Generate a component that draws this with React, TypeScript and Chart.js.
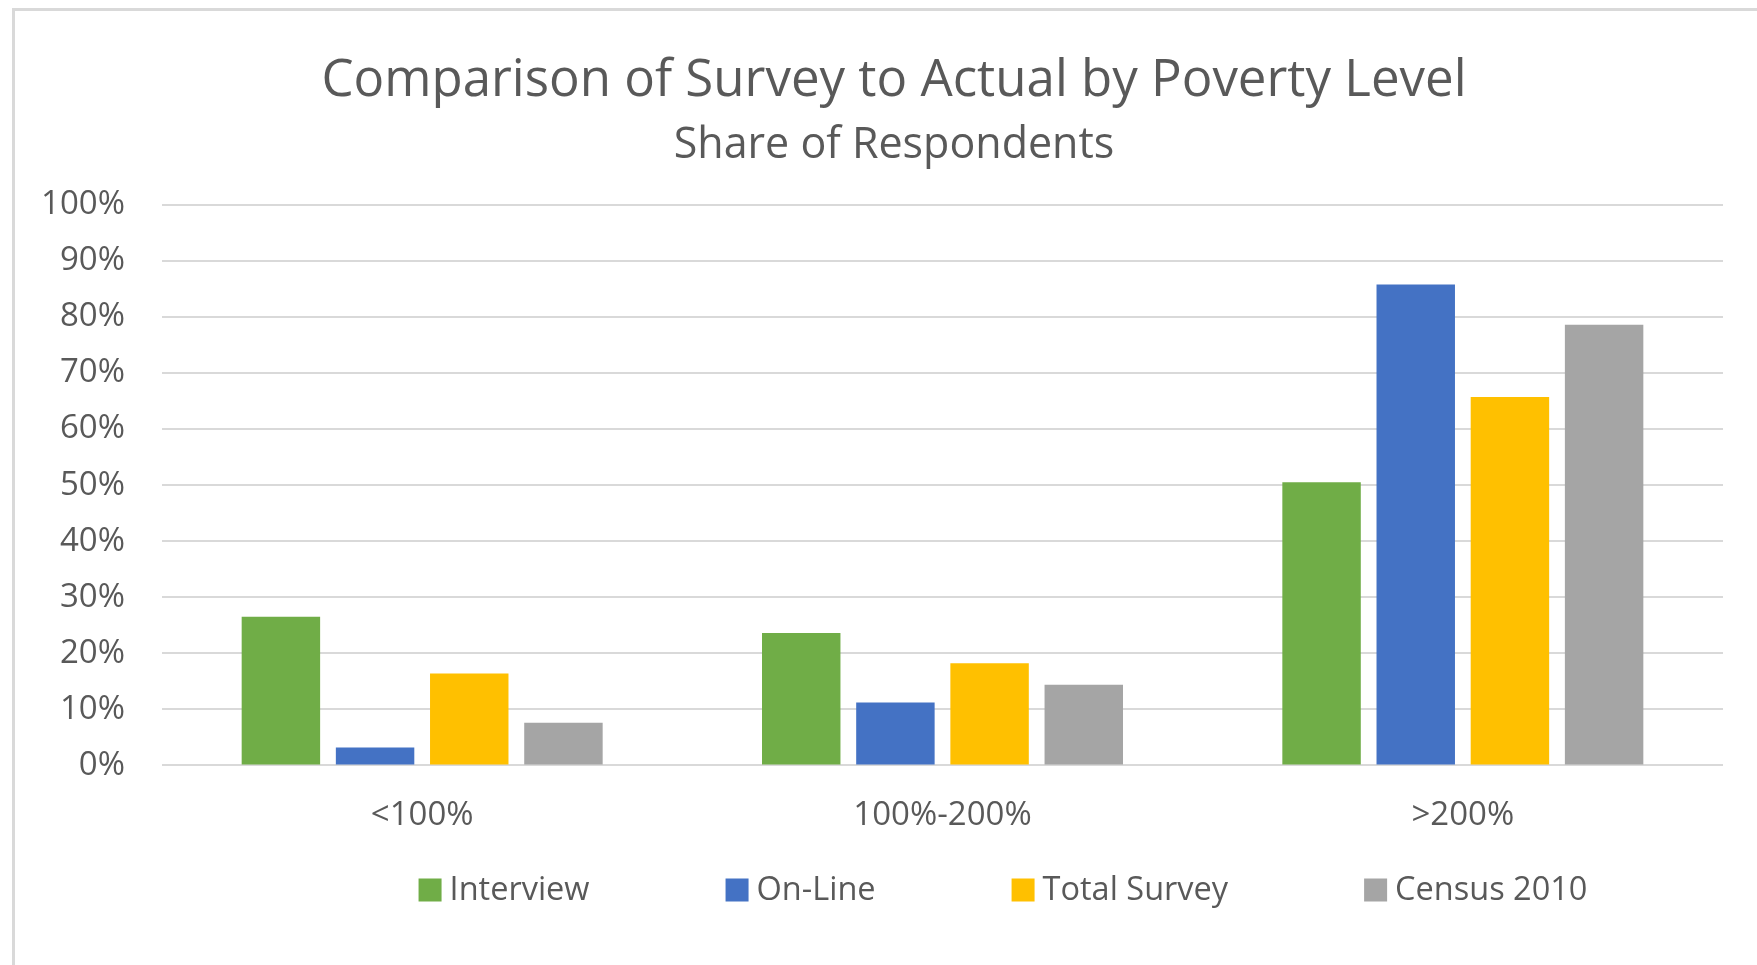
import React, { useEffect, useRef } from "react";
import { Chart, registerables } from "chart.js";

Chart.register(...registerables);

const categories = ["<100%", "100%-200%", ">200%"];
const seriesNames = ["Interview", "On-Line", "Total Survey", "Census 2010"];
const interview = [26.5, 23.6, 50.5];
const online = [3.2, 11.2, 85.8];
const totalSurvey = [16.4, 18.2, 65.7];
const census2010 = [7.6, 14.4, 78.6];
const seriesColors = ["#70AD47", "#4472C4", "#FFC000", "#A5A5A5"];
const titleText = "Comparison of Survey to Actual by Poverty Level";
const subtitleText = "Share of Respondents";

const FONT = "'Open Sans', 'Noto Sans', sans-serif";
const TEXT = "#595959";

// Center the title and subtitle on the whole chart frame rather than on the padded area
const centerTitles = {
  id: "centerTitles",
  afterLayout(chart: any) {
    const w = chart.width;
    chart.boxes.forEach((box: any) => {
      if (box.position === "top" && box.options && box.options.text) {
        const bw = box.width;
        box.left = (w - bw) / 2;
        box.right = box.left + bw;
      }
    });
  },
};

const customLegend = {
  id: "customLegend",
  afterDraw(chart: any) {
    const ctx = chart.ctx;
    const fontSize = 32.5;
    const box = 23;
    const boxGap = 8;
    const itemGap = 136;
    const centerX = 988;
    const centerY = 879;
    ctx.save();
    ctx.font = `${fontSize}px ${FONT}`;
    ctx.textBaseline = "middle";
    ctx.textAlign = "left";
    const items = chart.data.datasets.map((ds: any) => ({
      label: ds.label,
      color: ds.backgroundColor,
      w: ctx.measureText(ds.label).width,
    }));
    const total =
      items.reduce((s: number, it: any) => s + box + boxGap + it.w, 0) +
      itemGap * (items.length - 1);
    let x = centerX - total / 2;
    items.forEach((it: any) => {
      ctx.fillStyle = it.color;
      ctx.fillRect(x, centerY - box / 2, box, box);
      ctx.fillStyle = TEXT;
      ctx.fillText(it.label, x + box + boxGap, centerY + 1);
      x += box + boxGap + it.w + itemGap;
    });
    ctx.restore();
  },
};

export default function App() {
  const canvasRef = useRef<HTMLCanvasElement | null>(null);

  useEffect(() => {
    if (!canvasRef.current) return;
    const values = [interview, online, totalSurvey, census2010];
    const chart = new Chart(canvasRef.current, {
      type: "bar",
      data: {
        labels: categories,
        datasets: seriesNames.map((name, i) => ({
          label: name,
          data: values[i],
          backgroundColor: seriesColors[i],
          borderWidth: 0,
          categoryPercentage: 0.724,
          barPercentage: 0.833,
        })),
      },
      options: {
        animation: false,
        responsive: false,
        maintainAspectRatio: false,
        layout: { padding: { top: 30, left: 20, right: 50, bottom: 100 } },
        plugins: {
          legend: { display: false },
          tooltip: { enabled: false },
          title: {
            display: true,
            text: titleText,
            color: TEXT,
            font: { family: FONT, size: 51, weight: "normal", lineHeight: 1.2 },
            padding: { top: 10, bottom: 4 },
          },
          subtitle: {
            display: true,
            text: subtitleText,
            color: TEXT,
            font: { family: FONT, size: 43, weight: "normal", lineHeight: 1.2 },
            padding: { top: 4, bottom: 33 },
          },
        },
        scales: {
          x: {
            grid: { display: false, drawTicks: false },
            border: { display: false },
            ticks: {
              color: TEXT,
              font: { family: FONT, size: 33 },
              padding: 30,
            },
          },
          y: {
            min: 0,
            max: 100,
            grid: { color: "#D9D9D9", lineWidth: 2, drawTicks: false },
            border: { display: false },
            ticks: {
              stepSize: 10,
              color: TEXT,
              font: { family: FONT, size: 33 },
              padding: 37,
              callback: (v: any) => `${v}%`,
            },
            afterFit: (axis: any) => {
              axis.width = 127;
            },
          },
        },
      },
      plugins: [centerTitles, customLegend],
    });
    return () => chart.destroy();
  }, []);

  return (
    <div
      style={{
        position: "fixed",
        left: 0,
        top: 0,
        width: 1757,
        height: 965,
        overflow: "hidden",
        background: "#fff",
      }}
    >
      <div
        style={{
          position: "absolute",
          left: 12,
          top: 8,
          width: 1758,
          height: 954,
          border: "3px solid #D9D9D9",
          background: "#fff",
        }}
      >
        <canvas
          ref={canvasRef}
          width={1758}
          height={954}
          style={{ display: "block", width: 1758, height: 954 }}
        />
      </div>
    </div>
  );
}
